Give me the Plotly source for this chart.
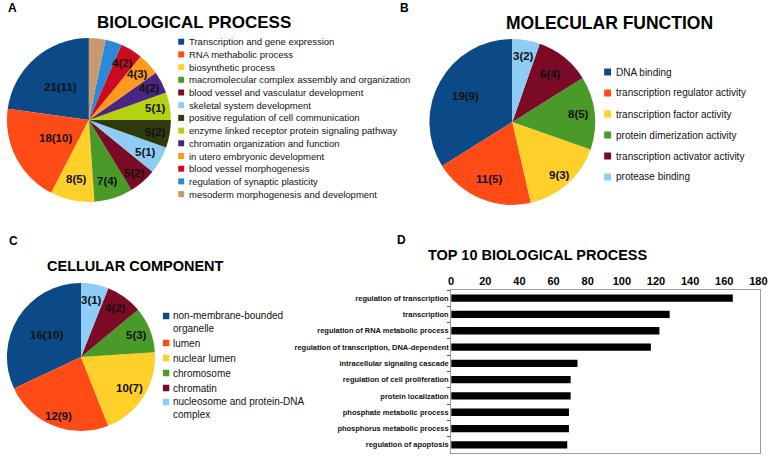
import math
import plotly.graph_objects as go

W, H = 777, 458

# ---------------- data ----------------
bp_labels = ["Transcription and gene expression", "RNA methabolic process", "biosynthetic process",
             "macromolecular complex assembly and organization", "blood vessel and vasculatur development",
             "skeletal system development", "positive regulation of cell communication",
             "enzyme linked receptor protein signaling pathway", "chromatin organization and function",
             "in utero embryonic development", "blood vessel morphogenesis",
             "regulation of synaptic plasticity", "mesoderm morphogenesis and development"]
bp_values = [21, 18, 8, 7, 5, 5, 5, 5, 4, 4, 4, 3, 3]
bp_genes = [11, 10, 5, 4, 2, 1, 2, 1, 2, 3, 2, None, None]
bp_colors = ["#0B4A86", "#FF4B16", "#FFD02A", "#4A9A2A", "#7A0A26", "#8DCDF5", "#2E3A0E",
             "#B4D30E", "#4B2582", "#FF9A1E", "#CC0A1E", "#2A8AD8", "#C8996E"]

mf_labels = ["DNA binding", "transcription regulator activity", "transcription factor activity",
             "protein dimerization activity", "transcription activator activity", "protease binding"]
mf_values = [19, 11, 9, 8, 6, 3]
mf_genes = [9, 5, 3, 5, 4, 2]
mf_colors = ["#0B4A86", "#FF4B16", "#FFD02A", "#4A9A2A", "#7A0A26", "#8DCDF5"]

cc_labels = ["non-membrane-bounded<br>organelle", "lumen", "nuclear lumen", "chromosome", "chromatin",
             "nucleosome and protein-DNA<br>complex"]
cc_values = [16, 12, 10, 5, 4, 3]
cc_genes = [10, 9, 7, 3, 2, 1]
cc_colors = ["#0B4A86", "#FF4B16", "#FFD02A", "#4A9A2A", "#7A0A26", "#8DCDF5"]

top_terms = ["regulation of transcription", "transcription", "regulation of RNA metabolic process",
             "regulation of transcription, DNA-dependent", "intracellular signaling cascade",
             "regulation of cell proliferation", "protein localization", "phosphate metabolic process",
             "phosphorus metabolic process", "regulation of apoptosis"]
top_counts = [165, 128, 122, 117, 74, 70, 70, 69, 69, 68]
x_ticks = [0, 20, 40, 60, 80, 100, 120, 140, 160, 180]

# label placement (fraction of radius) – style only
bp_lblr = [0.53, 0.46, 0.73, 0.77, 0.84, 0.79, 0.82, 0.82, 0.84, 0.81, 0.8, 0.8, 0.8]
mf_lblr = [0.64, 0.74, 0.85, 0.8, 0.73, 0.8]
cc_lblr = [0.55, 0.84, 0.77, 0.81, 0.8, 0.78]

FONT = "Liberation Sans, Arial, sans-serif"


def px_x(x):
    return x / W


def px_y(y):
    return 1 - y / H


def lbl(v, g):
    return "" if g is None else f"{v}({g})"


fig = go.Figure()
annotations = []
shapes = []


def text(x, y, s, size, bold=False, anchor="left", color="#000000"):
    annotations.append(dict(
        x=px_x(x), y=px_y(y), xref="paper", yref="paper", text=s, showarrow=False,
        xanchor=anchor, yanchor="middle", align="left",
        font=dict(family=FONT, size=size, color=color, weight="bold" if bold else "normal")))


def add_pie(labels, values, genes, colors, cx, cy, r, fr):
    total = sum(values)
    # plotly's counterclockwise puts slice 1 right of 12 o'clock; rotate so it starts at 12 going left
    rot = -360.0 * values[0] / total
    fig.add_trace(go.Pie(
        labels=labels, values=values, textinfo="none",
        sort=False, direction="counterclockwise", rotation=rot,
        marker=dict(colors=colors, line=dict(width=0)),
        domain=dict(x=[px_x(cx - r), px_x(cx + r)], y=[px_y(cy + r), px_y(cy - r)]),
        showlegend=False, hoverinfo="label+value"))
    cum = 0
    for v, g, f in zip(values, genes, fr):
        mid = (cum + v / 2) / total * 2 * math.pi
        cum += v
        s = lbl(v, g)
        if s:
            text(cx - math.sin(mid) * r * f, cy - math.cos(mid) * r * f, s, 11.5, True, "center", "#111111")


add_pie(bp_labels, bp_values, bp_genes, bp_colors, 87, 120, 83, bp_lblr)
add_pie(mf_labels, mf_values, mf_genes, mf_colors, 516, 122, 84, mf_lblr)
add_pie(cc_labels, cc_values, cc_genes, cc_colors, 79, 357, 75, cc_lblr)

fig.add_trace(go.Bar(
    y=top_terms, x=top_counts, orientation="h", marker=dict(color="#000000", line=dict(width=0)),
    width=0.45, showlegend=False, xaxis="x", yaxis="y"))


def legend(labels, colors, sx, ys, size, sq, tx, bold=False):
    for lab, col, y in zip(labels, colors, ys):
        nlines = lab.count("<br>") + 1
        shapes.append(dict(type="rect", xref="paper", yref="paper",
                           x0=px_x(sx), x1=px_x(sx + sq), y0=px_y(y + sq / 2), y1=px_y(y - sq / 2),
                           fillcolor=col, line=dict(width=0)))
        yc = y + (nlines - 1) * size * 0.55
        text(tx, yc, lab, size, bold, color="#111111")


# panel letters & titles
text(10, 8, "A", 12, True, "center")
text(407, 8, "B", 12, True, "center")
text(11, 241, "C", 12, True, "center")
text(404, 240, "D", 12, True, "center")
text(193, 23, "BIOLOGICAL PROCESS", 17, True, "center")
text(614, 23, "MOLECULAR FUNCTION", 17.5, True, "center")
text(134, 266, "CELLULAR COMPONENT", 14.5, True, "center")
text(429, 255, "TOP 10 BIOLOGICAL PROCESS", 14.5, True, "left")

legend(bp_labels, bp_colors, 177.5, [41.7 + 12.7 * i for i in range(13)], 9.5, 6, 186)
legend(mf_labels, mf_colors, 609, [72 + 21 * i for i in range(6)], 10, 7, 619)
legend(cc_labels, cc_colors, 162, [316, 343, 358, 373, 388, 402], 10, 6.5, 170)

fig.update_layout(
    width=W, height=H, margin=dict(l=0, r=0, t=0, b=0),
    paper_bgcolor="white", plot_bgcolor="white",
    annotations=annotations, shapes=shapes,
    xaxis=dict(domain=[px_x(454), px_x(767)], range=[0, 181], side="top", tickvals=x_ticks,
               showgrid=False, zeroline=False, showline=True, mirror=True, linecolor="#9a9a9a",
               linewidth=1, ticks="", tickfont=dict(family=FONT, size=11, color="#000", weight="bold"),
               anchor="y", fixedrange=True),
    yaxis=dict(domain=[px_y(453), px_y(290)], autorange="reversed", showgrid=False, zeroline=False,
               showline=True, mirror=True, linecolor="#9a9a9a", linewidth=1, ticks="outside",
               tickson="boundaries", ticklen=3, tickcolor="#555",
               tickfont=dict(family=FONT, size=7.5, color="#111", weight="bold"), anchor="x",
               fixedrange=True),
    font=dict(family=FONT),
)

fig.write_html("out.html", config={"displayModeBar": False},
               post_script="document.body.style.margin='0';document.body.style.overflow='hidden';")
